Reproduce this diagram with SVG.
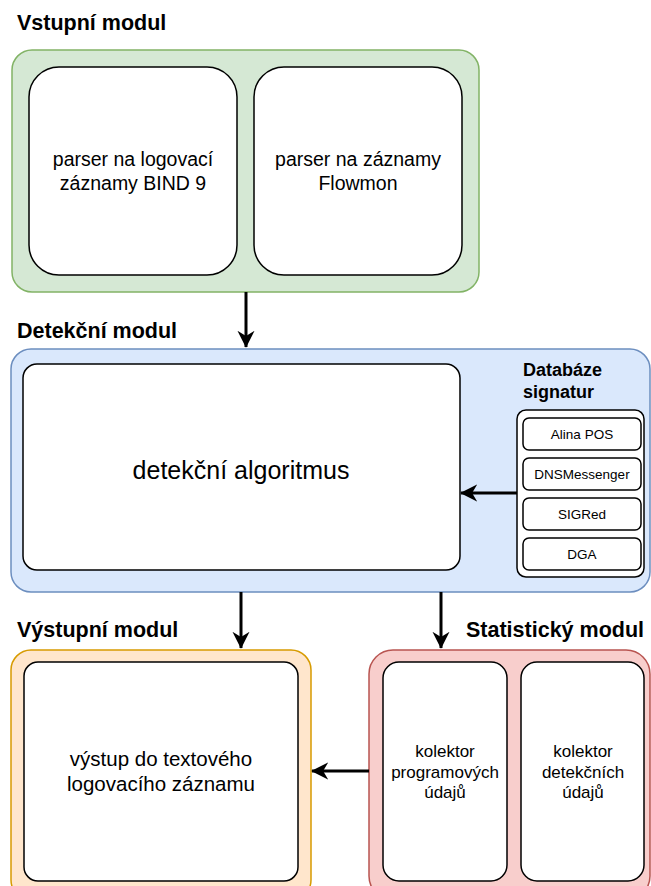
<svg xmlns="http://www.w3.org/2000/svg" width="651" height="886" viewBox="0 0 651 886">
<style>
text{font-family:"Liberation Sans",Arial,sans-serif;fill:#000;}
.title{font-size:21.5px;font-weight:bold;}
.inner{fill:#fff;stroke:#000;stroke-width:1.5;}
.c{text-anchor:middle;}
.conn{stroke:#000;stroke-width:3;fill:none;}
</style>
<defs>
<marker id="arr" viewBox="0 0 10 10" refX="9.5" refY="5" markerWidth="5.7" markerHeight="5.7" orient="auto" markerUnits="strokeWidth">
<path d="M0,0 L10,5 L0,10 L3,5 Z" fill="#000"/>
</marker>
</defs>
<rect width="651" height="886" fill="#fff"/>

<g id="vstupni">
<text class="title" x="17" y="30">Vstupní modul</text>
<rect x="12" y="50" width="467" height="242" rx="20" fill="#d5e8d4" stroke="#82b366" stroke-width="1.5"/>
</g>
<g id="parser-bind">
<rect class="inner" x="29" y="67" width="208" height="208" rx="30"/>
<text class="c" x="133" y="166" font-size="19.5">parser na logovací</text>
<text class="c" x="133" y="190" font-size="19.5">záznamy BIND 9</text>
</g>
<g id="parser-flowmon">
<rect class="inner" x="254" y="67" width="208" height="208" rx="30"/>
<text class="c" x="358" y="166" font-size="19.5">parser na záznamy</text>
<text class="c" x="358" y="190" font-size="19.5">Flowmon</text>
</g>

<g id="detekcni">
<text class="title" x="17" y="338">Detekční modul</text>
<rect x="11" y="349" width="639" height="243" rx="20" fill="#dae8fc" stroke="#6c8ebf" stroke-width="1.5"/>
</g>
<g id="algoritmus">
<rect class="inner" x="23" y="364" width="437" height="206" rx="14"/>
<text class="c" x="241" y="479" font-size="25">detekční algoritmus</text>
</g>
<g id="databaze">
<text x="523" y="376" font-size="18" font-weight="bold">Databáze</text>
<text x="523" y="398" font-size="18" font-weight="bold">signatur</text>
<rect x="517" y="410" width="127" height="167" rx="9" fill="#fff" stroke="#000" stroke-width="1.5"/>
</g>
<g id="sig-alina">
<rect class="inner" x="523" y="418" width="118" height="32" rx="6"/>
<text class="c" x="582" y="439" font-size="13.5">Alina POS</text>
</g>
<g id="sig-dnsmessenger">
<rect class="inner" x="523" y="458" width="118" height="32" rx="6"/>
<text class="c" x="582" y="479" font-size="13.5">DNSMessenger</text>
</g>
<g id="sig-sigred">
<rect class="inner" x="523" y="498" width="118" height="32" rx="6"/>
<text class="c" x="582" y="519" font-size="13.5">SIGRed</text>
</g>
<g id="sig-dga">
<rect class="inner" x="523" y="538" width="118" height="32" rx="6"/>
<text class="c" x="582" y="559" font-size="13.5">DGA</text>
</g>

<g id="vystupni">
<text class="title" x="17" y="637">Výstupní modul</text>
<rect x="11" y="650" width="300" height="250" rx="20" fill="#ffe6cc" stroke="#d79b00" stroke-width="1.5"/>
</g>
<g id="vystup">
<rect class="inner" x="24" y="662" width="274" height="219" rx="14"/>
<text class="c" x="161" y="766" font-size="20.5">výstup do textového</text>
<text class="c" x="161" y="791" font-size="20.5">logovacího záznamu</text>
</g>

<g id="statisticky">
<text class="title" x="466" y="637">Statistický modul</text>
<rect x="369" y="650" width="281" height="250" rx="24" fill="#f8cecc" stroke="#b85450" stroke-width="1.5"/>
</g>
<g id="kolektor-prog">
<rect class="inner" x="383" y="662" width="124" height="219" rx="16"/>
<text class="c" x="445" y="757" font-size="17">kolektor</text>
<text class="c" x="445" y="778" font-size="17">programových</text>
<text class="c" x="445" y="798" font-size="17">údajů</text>
</g>
<g id="kolektor-det">
<rect class="inner" x="521" y="662" width="123" height="219" rx="16"/>
<text class="c" x="583" y="757" font-size="17">kolektor</text>
<text class="c" x="583" y="778" font-size="17">detekčních</text>
<text class="c" x="583" y="798" font-size="17">údajů</text>
</g>

<g id="connectors">
<line class="conn" x1="246" y1="292" x2="246" y2="347" marker-end="url(#arr)"/>
<line class="conn" x1="517" y1="493" x2="461" y2="493" marker-end="url(#arr)"/>
<line class="conn" x1="241" y1="592" x2="241" y2="648" marker-end="url(#arr)"/>
<line class="conn" x1="441" y1="592" x2="441" y2="648" marker-end="url(#arr)"/>
<line class="conn" x1="369" y1="771" x2="312" y2="771" marker-end="url(#arr)"/>
</g>
</svg>
